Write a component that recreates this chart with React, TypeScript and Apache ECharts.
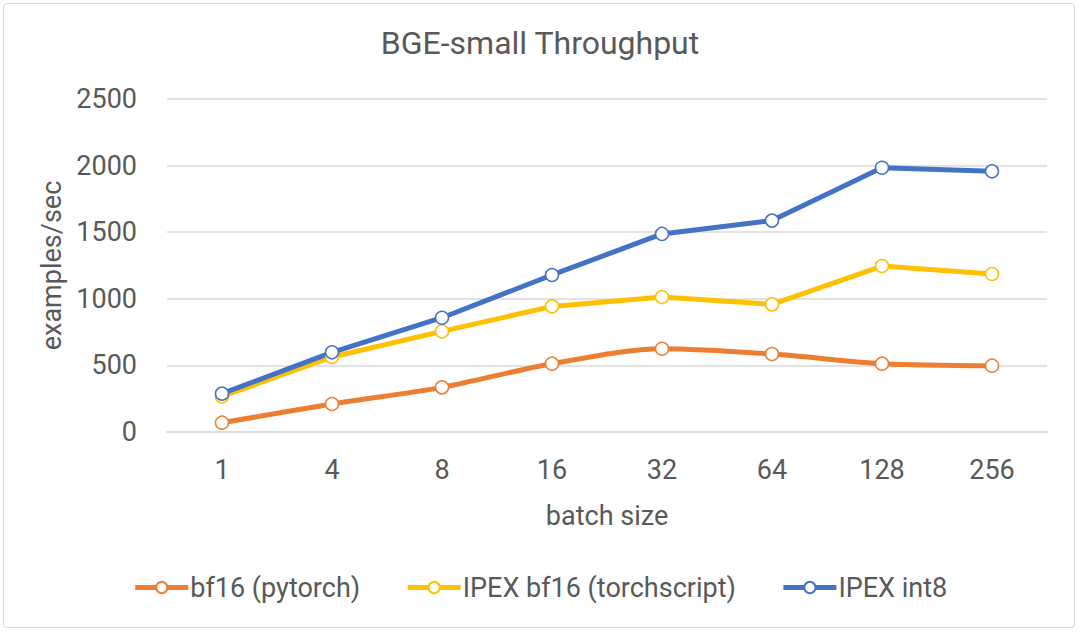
import React, { useEffect, useRef } from 'react';
import * as echarts from 'echarts';

const batchSizes = ['1', '4', '8', '16', '32', '64', '128', '256'];
const bf16Pytorch = [70, 210, 335, 513, 625, 585, 513, 498];
const ipexBf16 = [267, 563, 755, 943, 1013, 958, 1246, 1186];
const ipexInt8 = [288, 598, 858, 1179, 1487, 1587, 1984, 1957];

const TEXT = '#595959';
const FONT = 'Roboto, "Liberation Sans", Arial, sans-serif';

const App: React.FC = () => {
  const chartRef = useRef<HTMLDivElement>(null);

  useEffect(() => {
    document.body.style.margin = '0';
    if (!chartRef.current) return;
    const chart = echarts.init(chartRef.current, undefined, { renderer: 'svg' });

    const lineSeries = (name: string, data: number[], color: string, smooth: boolean) => ({
      name,
      type: 'line',
      data,
      smooth: smooth ? 0.3 : false,
      symbol: 'circle',
      symbolSize: 13,
      lineStyle: { width: 5, color },
      itemStyle: { color: '#ffffff', borderColor: color, borderWidth: 1.5 },
      emphasis: { disabled: true },
    });

    chart.setOption({
      animation: false,
      textStyle: { fontFamily: FONT },
      title: {
        text: 'BGE-small Throughput',
        left: 'center',
        top: 22,
        textStyle: { fontSize: 32, fontWeight: 'normal', color: TEXT, fontFamily: FONT },
      },
      legend: {
        bottom: 27,
        left: 'center',
        itemWidth: 53,
        itemHeight: 14,
        itemGap: 45,
        lineStyle: { width: 5 },
        textStyle: { fontSize: 27, color: TEXT, fontFamily: FONT, padding: [0, 0, 0, -3] },
        data: ['bf16 (pytorch)', 'IPEX bf16 (torchscript)', 'IPEX int8'],
      },
      grid: { left: 167, right: 33, top: 99, bottom: 201 },
      xAxis: {
        type: 'category',
        data: batchSizes,
        name: 'batch size',
        nameLocation: 'middle',
        nameGap: 70,
        nameTextStyle: { fontSize: 27, color: TEXT },
        axisLine: { lineStyle: { color: '#D9D9D9', width: 1.5 } },
        axisTick: { show: false },
        axisLabel: { fontSize: 27, color: TEXT, margin: 24 },
      },
      yAxis: {
        type: 'value',
        min: 0,
        max: 2500,
        interval: 500,
        name: 'examples/sec',
        nameLocation: 'middle',
        nameGap: 100,
        nameTextStyle: { fontSize: 27, color: TEXT },
        axisLabel: { fontSize: 27, color: TEXT, margin: 30, formatter: (v: number) => String(v) },
        splitLine: { lineStyle: { color: '#D9D9D9', width: 1.5 } },
      },
      series: [
        lineSeries('bf16 (pytorch)', bf16Pytorch, '#ED7D31', true),
        lineSeries('IPEX bf16 (torchscript)', ipexBf16, '#FFC000', false),
        lineSeries('IPEX int8', ipexInt8, '#4472C4', false),
      ],
    });

    return () => chart.dispose();
  }, []);

  return (
    <div style={{ width: 1080, height: 633, position: 'relative', background: '#fff' }}>
      <div
        style={{
          position: 'absolute',
          left: 3,
          top: 3,
          width: 1072,
          height: 625,
          border: '1.5px solid #D9D9D9',
          borderRadius: 4,
          boxSizing: 'border-box',
        }}
      />
      <div ref={chartRef} style={{ position: 'absolute', left: 0, top: 0, width: 1080, height: 633 }} />
    </div>
  );
};

export default App;
